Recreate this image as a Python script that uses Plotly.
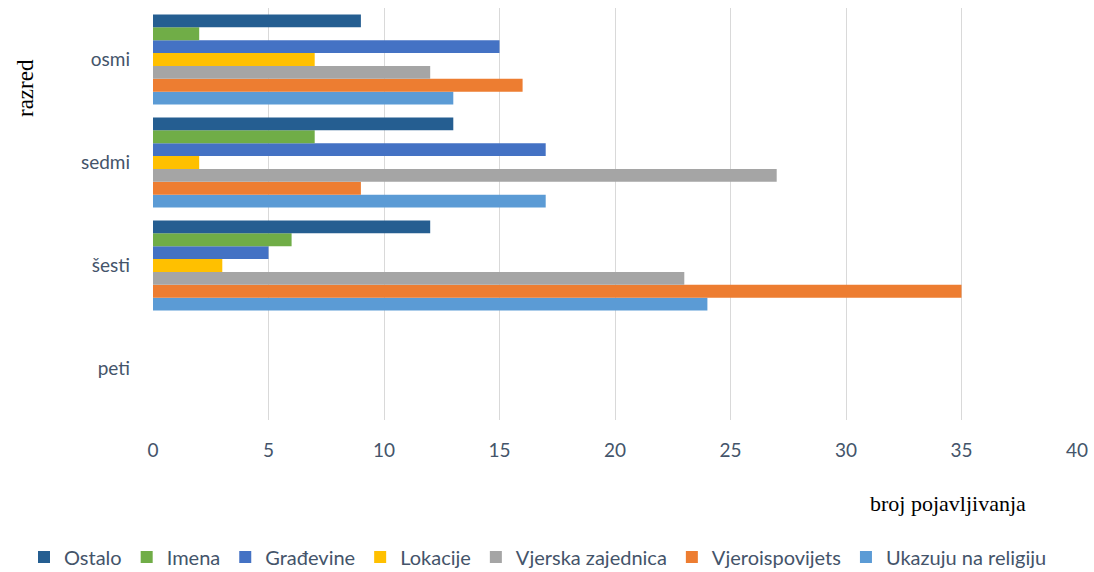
import plotly.graph_objects as go

categories = ["peti", "šesti", "sedmi", "osmi"]
series_names = ["Ukazuju na religiju", "Vjeroispovijets", "Vjerska zajednica",
                "Lokacije", "Građevine", "Imena", "Ostalo"]
ukazuju = [0, 24, 17, 13]
vjeroisp = [0, 35, 9, 16]
vjerska = [0, 23, 27, 12]
lokacije = [0, 3, 2, 7]
gradevine = [0, 5, 17, 15]
imena = [0, 6, 7, 2]
ostalo = [0, 12, 13, 9]
values = [ukazuju, vjeroisp, vjerska, lokacije, gradevine, imena, ostalo]
colors = ["#5B9BD5", "#ED7D31", "#A5A5A5", "#FFC000", "#4472C4", "#70AD47", "#255E91"]
x_ticks = [0, 5, 10, 15, 20, 25, 30, 35, 40]

fig = go.Figure()
for name, vals, col in zip(series_names, values, colors):
    fig.add_trace(go.Bar(y=categories, x=vals, name=name, orientation="h",
                         marker=dict(color=col, line=dict(width=0))))

tick_font = dict(family="Lato, Open Sans, sans-serif", size=19, color="#44546A")
fig.update_layout(
    width=1094, height=572,
    margin=dict(l=153, r=17, t=8, b=152, autoexpand=False),
    paper_bgcolor="white", plot_bgcolor="white",
    barmode="group", bargap=0.125, bargroupgap=0,
    xaxis=dict(range=[0, 40], tickvals=x_ticks, showgrid=True, gridcolor="#D9D9D9",
               gridwidth=1, zeroline=False, showline=False, tickfont=tick_font,
               ticks="", ticklabelstandoff=17, automargin=False),
    yaxis=dict(range=[-0.5, 3.5], showgrid=False, zeroline=False, showline=False,
               tickfont=tick_font, ticks="", ticklabelstandoff=22, automargin=False),
    legend=dict(orientation="h", x=(24 - 153) / 924, xanchor="left",
                y=(420 - 557) / 412, yanchor="middle",
                traceorder="reversed",
                font=dict(family="Lato, Open Sans, sans-serif", size=20, color="#44546A"),
                itemwidth=30),
    showlegend=True,
    annotations=[
        dict(text="broj pojavljivanja", xref="paper", yref="paper",
             x=(948 - 153) / 924, y=(420 - 503) / 412, xanchor="center", yanchor="middle",
             showarrow=False, font=dict(family="Liberation Serif, Times New Roman, serif",
                                        size=22, color="black")),
        dict(text="razred", xref="paper", yref="paper",
             x=(25 - 153) / 924, y=(420 - 88) / 412, xanchor="center", yanchor="middle",
             textangle=-90, showarrow=False,
             font=dict(family="Liberation Serif, Times New Roman, serif", size=23, color="black")),
    ],
)
fig.write_html("out.html", config={"displayModeBar": False},
               post_script="document.body.style.margin='0';document.body.style.overflow='hidden';")
